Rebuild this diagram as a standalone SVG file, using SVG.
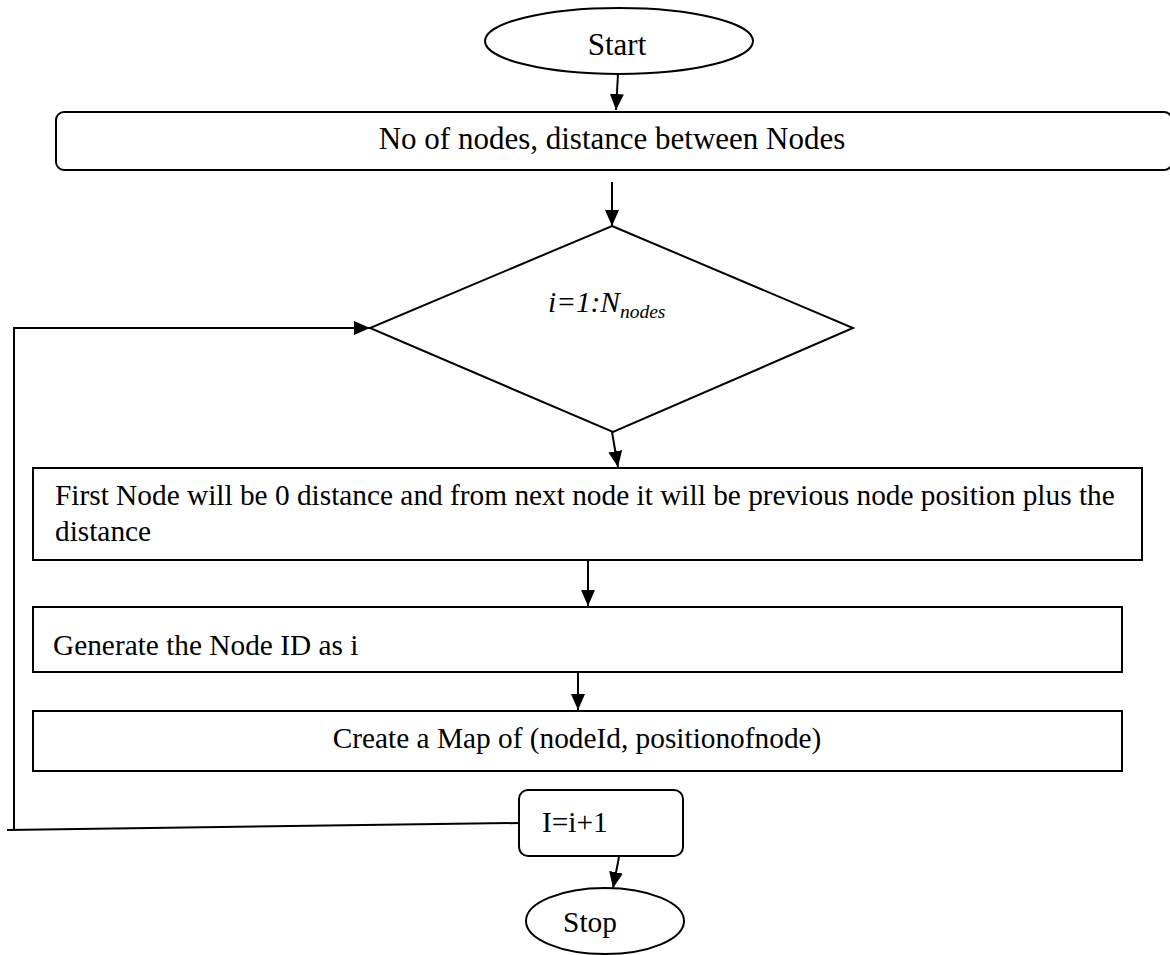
<svg xmlns="http://www.w3.org/2000/svg" width="1170" height="955" viewBox="0 0 1170 955">
<style>
  .shape { fill: #ffffff; stroke: #000000; stroke-width: 2; }
  .conn { fill: none; stroke: #000000; stroke-width: 2; }
  .t { font-family: "Liberation Serif", "Times New Roman", serif; font-size: 29.33px; fill: #000000; }
  .big { font-size: 31px; }
  .it { font-style: italic; }
</style>
<defs>
  <marker id="arr" markerUnits="userSpaceOnUse" markerWidth="16" markerHeight="14" refX="16" refY="7" orient="auto">
    <path d="M0,0 L16,7 L0,14 z" fill="#000000"/>
  </marker>
</defs>
<rect width="1170" height="955" fill="#ffffff"/>

<g id="connectors">
  <line class="conn" x1="618" y1="74" x2="616" y2="110" marker-end="url(#arr)"/>
  <line class="conn" x1="612" y1="182" x2="612" y2="226" marker-end="url(#arr)"/>
  <line class="conn" x1="612" y1="432" x2="618" y2="467" marker-end="url(#arr)"/>
  <line class="conn" x1="588" y1="561" x2="588" y2="606" marker-end="url(#arr)"/>
  <line class="conn" x1="578" y1="673" x2="578" y2="710" marker-end="url(#arr)"/>
  <line class="conn" x1="619" y1="857" x2="613" y2="888" marker-end="url(#arr)"/>
  <polyline class="conn" points="519,823 7,830"/>
  <line class="conn" x1="14" y1="830" x2="14" y2="328"/>
  <line class="conn" x1="13" y1="328" x2="370" y2="328" marker-end="url(#arr)"/>
</g>

<g id="start">
  <ellipse class="shape" cx="619" cy="41" rx="134" ry="33"/>
  <text class="t big" x="617" y="55" text-anchor="middle">Start</text>
</g>

<g id="input">
  <rect class="shape" x="56" y="112" width="1116" height="58" rx="8" ry="8"/>
  <text class="t big" x="612" y="149" text-anchor="middle">No of nodes, distance between Nodes</text>
</g>

<g id="loop">
  <polygon class="shape" points="612,226 853,328 613,432 370,328"/>
  <text class="t it" x="548" y="312">i=1:N<tspan font-size="19.5px" dy="6">nodes</tspan></text>
</g>

<g id="position">
  <rect class="shape" x="33" y="468" width="1109" height="92"/>
  <text class="t" x="55" y="505">First Node will be 0 distance and from next node it will be previous node position plus the</text>
  <text class="t" x="55" y="541">distance</text>
</g>

<g id="generate">
  <rect class="shape" x="33" y="607" width="1089" height="65"/>
  <text class="t" x="53" y="655">Generate the Node ID as i</text>
</g>

<g id="map">
  <rect class="shape" x="33" y="711" width="1089" height="60"/>
  <text class="t" x="577" y="748" text-anchor="middle">Create a Map of (nodeId, positionofnode)</text>
</g>

<g id="increment">
  <rect class="shape" x="519" y="790" width="164" height="66" rx="9" ry="9"/>
  <text class="t" x="542" y="832">I=i+1</text>
</g>

<g id="stop">
  <ellipse class="shape" cx="605" cy="921" rx="79" ry="33"/>
  <text class="t" x="590" y="932" text-anchor="middle">Stop</text>
</g>
</svg>
